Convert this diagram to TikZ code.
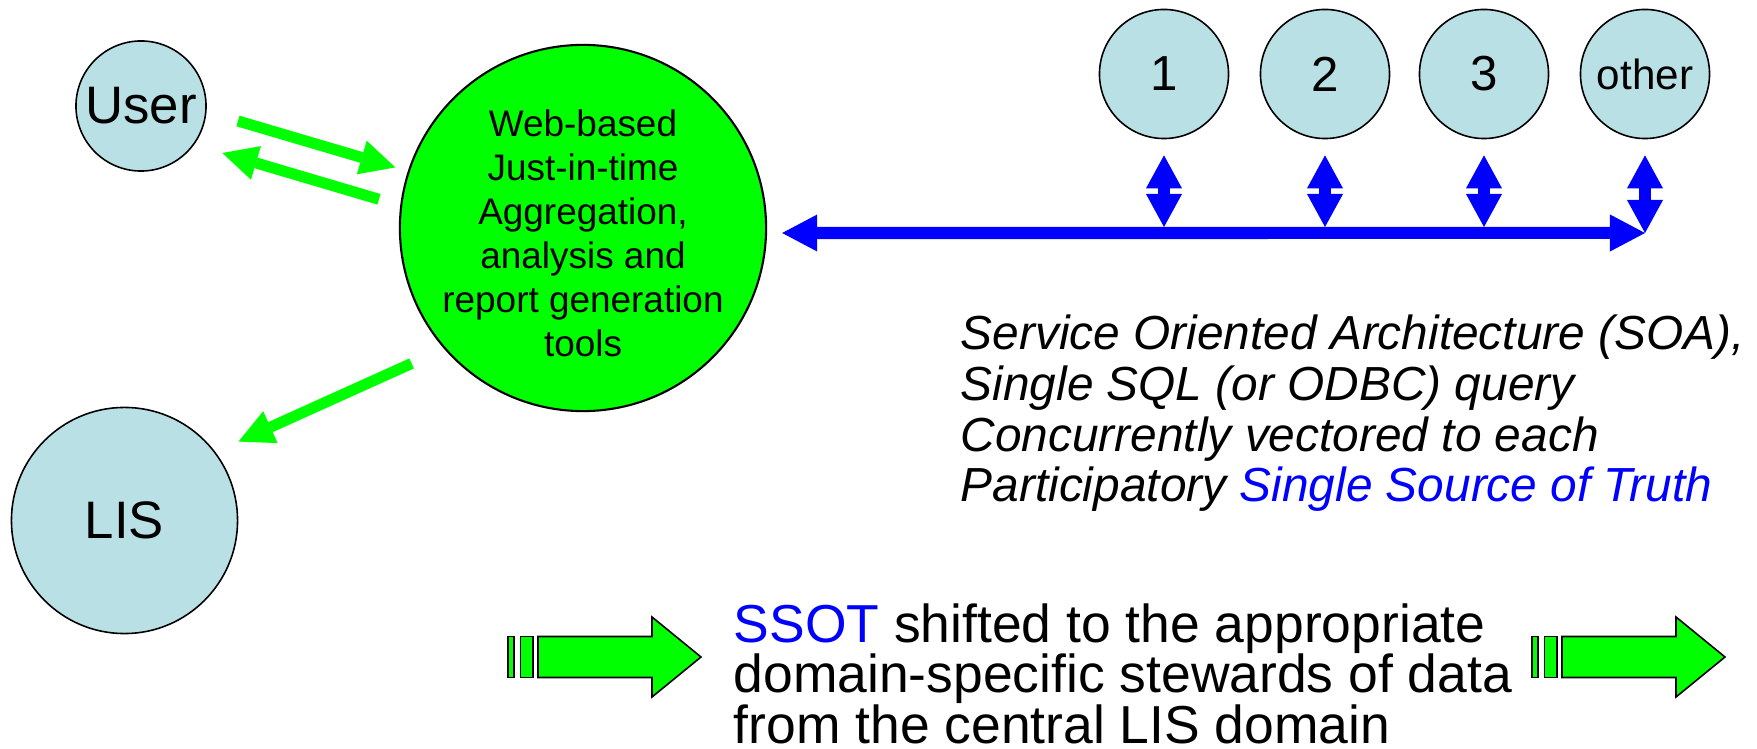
\documentclass[tikz,border=0pt]{standalone}
\usepackage{fontspec}
\setmainfont{Liberation Sans}
\usetikzlibrary{arrows.meta,positioning,calc}
\definecolor{partyfill}{RGB}{185,224,228}
\definecolor{toolgreen}{RGB}{0,255,0}
\definecolor{soablue}{RGB}{0,0,255}
\tikzset{
  party/.style={circle, draw=black, line width=0.45pt, fill=partyfill,
                inner sep=0pt, text=black},
  tool/.style={circle, draw=black, line width=0.6pt, fill=toolgreen,
               inner sep=0pt, minimum size=3.66cm},
  flowarrow/.style={-{Triangle[length=0.35cm, width=0.35cm, line width=0pt]},
                    line width=0.11cm, toolgreen},
  busline/.style={{Triangle[length=0.35cm, width=0.37cm, line width=0pt]}-%
                  {Triangle[length=0.35cm, width=0.37cm, line width=0pt]},
                  line width=0.12cm, soablue},
  tapline/.style={{Triangle[length=0.33cm, width=0.36cm, line width=0pt]}-%
                  {Triangle[length=0.33cm, width=0.36cm, line width=0pt]},
                  line width=0.12cm, soablue},
  stripe/.style={draw=black, line width=0.45pt, fill=toolgreen},
  pics/stripedarrow/.style={code={
    \filldraw[stripe] (0,-20.5) rectangle (6,20.5);
    \filldraw[stripe] (12.5,-20.5) rectangle (25,20.5);
    \filldraw[stripe] (30,-20.5) -- (144,-20.5) -- (144,-40) -- (193,0)
                      -- (144,40) -- (144,20.5) -- (30,20.5) -- cycle;
  }},
}

\begin{document}
\begin{tikzpicture}[x=0.01cm, y=-0.01cm]
\useasboundingbox (0,0) rectangle (1757,749);

% people and systems
\node[party, minimum size=1.30cm, font=\fontsize{15}{18}\selectfont] (user) at (141,106) {User};
\node[party, minimum size=2.26cm, font=\fontsize{15}{18}\selectfont] (lis) at (124.5,520.5) {LIS};
\node[tool] (web) at (583,228) {};
\node[align=center, inner sep=0pt, font=\fontsize{10.5}{12.5}\selectfont] (webtext)
      at ([yshift=-0.05cm]web.center)
      {Web-based\\Just-in-time\\Aggregation,\\analysis and\\report generation\\tools};

% participating sources
\node[party, minimum size=1.29cm, font=\fontsize{14}{17}\selectfont] (one) at (1164,74) {1};
\node[party, minimum size=1.29cm, font=\fontsize{14}{17}\selectfont] (two) at (1325,74) {2};
\node[party, minimum size=1.29cm, font=\fontsize{14}{17}\selectfont] (three) at (1484,74) {3};
\node[party, minimum size=1.29cm, font=\fontsize{12}{14}\selectfont] (other) at (1645,74) {other};

\coordinate (bus) at (other |- 0,233);

% green flows
\draw[flowarrow, shorten <=0.327cm, shorten >=0.13cm] (user.-5.9) -- (web.162.4);
\draw[flowarrow, shorten <=0.221cm, shorten >=0.293cm] (web.173.5) -- (user.-36.5);
\draw[flowarrow, shorten <=0.355cm, shorten >=0.253cm] (web.-139.8) -- (lis.37.6);

% SOA bus and taps
\draw[busline, shorten <=0.15cm] ([yshift=-0.05cm]web.east) -- (bus);
\foreach \src in {one,two,three}
  \draw[tapline, shorten <=0.16cm, shorten >=0.06cm] (\src.south) -- (\src |- bus);
\draw[tapline, shorten <=0.16cm] (other.south) -- (bus);

% notes (base anchor sits on the last line)
\node[anchor=base west, align=left, inner sep=0pt,
      font=\fontsize{13.6}{14.5}\selectfont\itshape] (soa) at (960,502)
      {Service Oriented Architecture (SOA),\\Single SQL (or ODBC) query\\%
       Concurrently vectored to each\\Participatory {\color{soablue}Single Source of Truth}};

\pic at (508,657) {stripedarrow};
\pic at (1532,657) {stripedarrow};

\node[anchor=base west, align=left, inner sep=0pt,
      font=\fontsize{15.2}{14.3}\selectfont] (ssot) at (733,743)
      {{\color{soablue}SSOT} shifted to the appropriate\\domain-specific stewards of data\\%
       from the central LIS domain};

\end{tikzpicture}
\end{document}
